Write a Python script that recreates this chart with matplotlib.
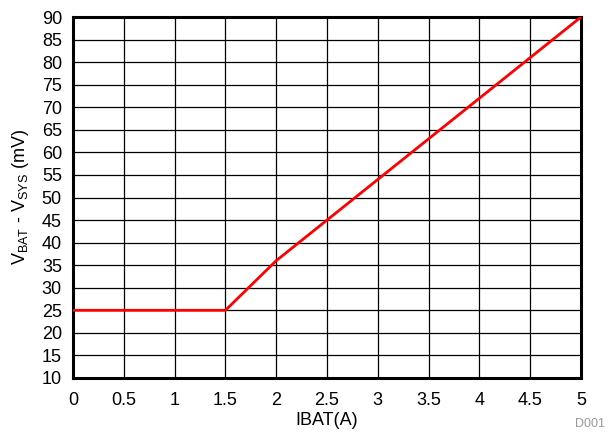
import matplotlib
matplotlib.use('Agg')
from matplotlib import pyplot as plt
import numpy as np

plt.rc('font', family=['Liberation Sans', 'DejaVu Sans'], size=13)
plt.rc('mathtext', fontset='custom', rm='Liberation Sans')

ibat = [0, 1.5, 2, 5]
vdiff = [25, 25, 36, 90]

fig = plt.figure(figsize=(6.08, 4.37), dpi=100)
ax = fig.add_axes([73 / 608, 1 - 378 / 437, 508 / 608, 361 / 437])

ax.plot(ibat, vdiff, color='red', lw=2, zorder=3)

ax.set_xlim(0, 5)
ax.set_ylim(10, 90)
ax.set_xticks(np.arange(0, 5.01, 0.5))
ax.set_xticklabels(['0', '0.5', '1', '1.5', '2', '2.5', '3', '3.5', '4', '4.5', '5'])
ax.set_yticks(np.arange(10, 91, 5))
ax.grid(True, color='black', lw=0.9)
ax.tick_params(axis='x', length=0, pad=10, labelsize=13)
ax.tick_params(axis='y', length=0, pad=8, labelsize=13)
for s in ax.spines.values():
    s.set_linewidth(2.2)

ax.set_xlabel('IBAT(A)', labelpad=2)
ax.set_ylabel(r'V$_{\mathregular{BAT}}$ - V$_{\mathregular{SYS}}$ (mV)', labelpad=8)
fig.text(0.995, 0.015, 'D001', color='#999999', fontsize=9, ha='right', va='bottom')

fig.savefig('out.png', dpi=100)
